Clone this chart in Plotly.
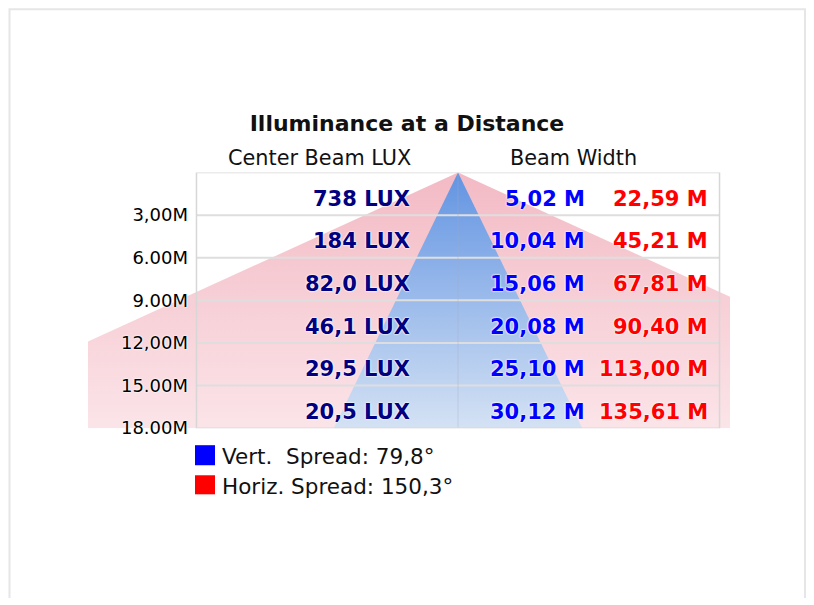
import plotly.graph_objects as go

# ---- data ----
distances = [3, 6, 9, 12, 15, 18]
tick_labels = ["3,00M", "6.00M", "9.00M", "12,00M", "15.00M", "18.00M"]
lux_labels = ["738 LUX", "184 LUX", "82,0 LUX", "46,1 LUX", "29,5 LUX", "20,5 LUX"]
vert_width = [5.02, 10.04, 15.06, 20.08, 25.10, 30.12]
horiz_width = [22.59, 45.21, 67.81, 90.40, 113.00, 135.61]
vert_width_labels = ["5,02 M", "10,04 M", "15,06 M", "20,08 M", "25,10 M", "30,12 M"]
horiz_width_labels = ["22,59 M", "45,21 M", "67,81 M", "90,40 M", "113,00 M", "135,61 M"]
vert_spread_label = "Vert.\u00a0\u00a0Spread: 79,8°"
horiz_spread_label = "Horiz. Spread: 150,3°"

# the page keeps an 8px body margin; the photographed page is also slightly
# compressed vertically, so layout positions are mapped accordingly
OFF = 8
YS = 0.981
W, H = 814 - 2 * OFF, 600
FONT = "DejaVu Sans"
HALO = "0 0 2px white, 0 0 2px white, 0 0 1px white"


def px(x):
    return (x - OFF) / W


def py(y):
    return 1 - (y / YS - OFF) / H


max_d = distances[-1]
BOX = 31.7  # half-width of the framed area (in metres on the x scale)
XS = 8.25   # pixels per metre horizontally
APEX = 458

fig = go.Figure()

# horizontal spread (red) cone
hw = horiz_width[-1] / 2
fig.add_trace(go.Scatter(
    x=[0, -hw, hw, 0], y=[0, max_d, max_d, 0],
    mode="lines", fill="toself", line=dict(width=0),
    fillgradient=dict(type="vertical", start=0, stop=max_d,
                      colorscale=[[0, "rgb(243,186,196)"], [1, "rgb(251,229,233)"]]),
    hoverinfo="skip", showlegend=False,
))

# vertical spread (blue) cone
vw = vert_width[-1] / 2
fig.add_trace(go.Scatter(
    x=[0, -vw, vw, 0], y=[0, max_d, max_d, 0],
    mode="lines", fill="toself", line=dict(width=0),
    fillgradient=dict(type="vertical", start=0, stop=max_d,
                      colorscale=[[0, "rgb(98,148,226)"], [1, "rgb(214,227,244)"]]),
    hoverinfo="skip", showlegend=False,
))

shapes = []
for d in distances[:-1]:
    shapes.append(dict(type="line", xref="x", yref="y", x0=-BOX, x1=BOX, y0=d, y1=d,
                       line=dict(color="rgb(222,222,222)", width=2), layer="above"))
shapes.append(dict(type="line", xref="x", yref="y", x0=0, x1=0, y0=0, y1=max_d,
                   line=dict(color="rgba(170,170,190,0.35)", width=1), layer="above"))
shapes.append(dict(type="rect", xref="x", yref="y", x0=-BOX, x1=BOX, y0=0, y1=max_d,
                   line=dict(color="rgb(215,215,215)", width=1.5), layer="above"))
# outer border of the picture (left, top, right)
shapes.append(dict(type="path", xref="paper", yref="paper",
                   path=f"M {px(9.5)},0 L {px(9.5)},{py(9)} L {px(805)},{py(9)} L {px(805)},0",
                   line=dict(color="rgb(230,230,230)", width=2), layer="below"))
# legend squares
shapes.append(dict(type="rect", xref="paper", yref="paper", x0=px(195), x1=px(215), y0=py(464), y1=py(444),
                   fillcolor="#0000ff", line=dict(width=0)))
shapes.append(dict(type="rect", xref="paper", yref="paper", x0=px(195), x1=px(215), y0=py(493), y1=py(474),
                   fillcolor="#ff0000", line=dict(width=0)))

ann = []
for i, d in enumerate(distances):
    yc = d - 1.5
    ann.append(dict(x=-5.55, y=yc, xref="x", yref="y", text=lux_labels[i], showarrow=False,
                    xanchor="right", yanchor="middle", yshift=-5,
                    font=dict(family=FONT, size=21, color="#000080", weight="bold", shadow=HALO)))
    ann.append(dict(x=15.6, y=yc, xref="x", yref="y", text=vert_width_labels[i], showarrow=False,
                    xanchor="right", yanchor="middle", yshift=-5,
                    font=dict(family=FONT, size=21, color="#0000ff", weight="bold", shadow=HALO)))
    ann.append(dict(x=30.5, y=yc, xref="x", yref="y", text=horiz_width_labels[i], showarrow=False,
                    xanchor="right", yanchor="middle", yshift=-5,
                    font=dict(family=FONT, size=21, color="#ff0000", weight="bold", shadow=HALO)))

ann.append(dict(x=px(319), y=py(157), xref="paper", yref="paper", text="Center Beam LUX", showarrow=False,
                xanchor="center", yanchor="middle", font=dict(family=FONT, size=20.8, color="#111111")))
ann.append(dict(x=px(573.5), y=py(157), xref="paper", yref="paper", text="Beam Width", showarrow=False,
                xanchor="center", yanchor="middle", font=dict(family=FONT, size=20.8, color="#111111")))
ann.append(dict(x=px(220), y=py(455), xref="paper", yref="paper", text=vert_spread_label, showarrow=False,
                xanchor="left", yanchor="middle", font=dict(family=FONT, size=21.5, color="#111111")))
ann.append(dict(x=px(220), y=py(485), xref="paper", yref="paper", text=horiz_spread_label, showarrow=False,
                xanchor="left", yanchor="middle", font=dict(family=FONT, size=21.5, color="#111111")))

fig.update_layout(
    width=W, height=H,
    margin=dict(l=0, r=0, t=0, b=0),
    paper_bgcolor="white", plot_bgcolor="rgba(0,0,0,0)",
    showlegend=False,
    title=dict(text="<b>Illuminance at a Distance</b>", x=px(407), xanchor="center",
               y=py(123), yanchor="middle", xref="paper", yref="paper",
               font=dict(family=FONT, size=22, color="#111111")),
    xaxis=dict(range=[(88 - APEX) / XS, (730 - APEX) / XS], domain=[px(88), px(730)],
               visible=False, fixedrange=True),
    yaxis=dict(range=[max_d, 0], domain=[py(427), py(172)], anchor="free", position=px(197),
               tickvals=distances, ticktext=tick_labels, showgrid=False, zeroline=False,
               showline=False, ticks="", ticklabelstandoff=9,
               tickfont=dict(family=FONT, size=18, color="#000000", shadow=HALO), fixedrange=True),
    shapes=shapes,
    annotations=ann,
)

fig.write_html("out.html")
